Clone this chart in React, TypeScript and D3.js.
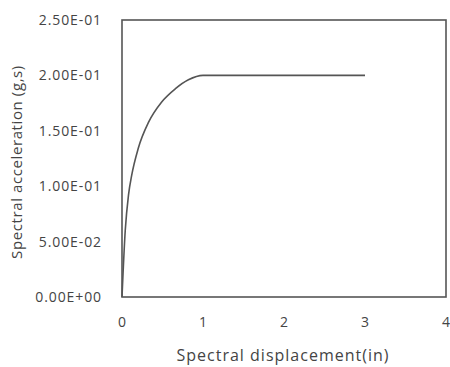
import { useEffect, useRef } from 'react';
import * as d3 from 'd3';

// pushover capacity curve (Sd in inches, Sa in g)
const displacement = [0, 0.04, 0.08, 0.12, 0.2, 0.33, 0.49, 0.66, 0.82, 1.0, 1.2, 3.0];
const acceleration = [0, 0.06, 0.092, 0.11, 0.134, 0.158, 0.176, 0.188, 0.196, 0.2, 0.2, 0.2];
const xTicks = [0, 1, 2, 3, 4];
const yTicks = [0, 0.05, 0.1, 0.15, 0.2, 0.25];

const width = 450;
const height = 367;

export default function App() {
  const ref = useRef<SVGSVGElement>(null);

  useEffect(() => {
    if (!ref.current) return;
    const svg = d3.select(ref.current);
    svg.selectAll('*').remove();

    const margin = { top: 20, right: 4, bottom: 70, left: 122 };
    const innerW = width - margin.left - margin.right;
    const innerH = height - margin.top - margin.bottom;
    const font = "'Open Sans', sans-serif";
    const ink = '#444';

    const g = svg
      .append('g')
      .attr('transform', `translate(${margin.left},${margin.top})`);

    const x = d3.scaleLinear().domain([0, 4]).range([0, innerW]);
    const y = d3.scaleLinear().domain([0, 0.25]).range([innerH, 0]);

    const pts = displacement.map((d, i) => [d, acceleration[i]] as [number, number]);
    const line = d3
      .line<[number, number]>()
      .x((d) => x(d[0]))
      .y((d) => y(d[1]))
      .curve(d3.curveMonotoneX);

    g.append('path')
      .datum(pts)
      .attr('fill', 'none')
      .attr('stroke', '#555')
      .attr('stroke-width', 1.6)
      .attr('d', line);

    // plot frame
    g.append('rect')
      .attr('x', 0)
      .attr('y', 0)
      .attr('width', innerW)
      .attr('height', innerH)
      .attr('fill', 'none')
      .attr('stroke', '#555')
      .attr('stroke-width', 1.6);

    g.selectAll('.ytick')
      .data(yTicks)
      .join('text')
      .attr('x', -20)
      .attr('y', (d) => y(d))
      .attr('dy', '0.35em')
      .attr('text-anchor', 'end')
      .attr('font-family', font)
      .attr('font-size', 14)
      .attr('letter-spacing', 0.9)
      .attr('fill', ink)
      .text((d) => d.toExponential(2).toUpperCase().replace(/E([+-])(\d)$/, 'E$10$2'));

    g.selectAll('.xtick')
      .data(xTicks)
      .join('text')
      .attr('x', (d) => x(d))
      .attr('y', innerH + 25)
      .attr('dy', '0.35em')
      .attr('text-anchor', 'middle')
      .attr('font-family', font)
      .attr('font-size', 14)
      .attr('fill', ink)
      .text((d) => d);

    svg
      .append('text')
      .attr('x', 283)
      .attr('y', 355)
      .attr('dy', '0.35em')
      .attr('text-anchor', 'middle')
      .attr('font-family', font)
      .attr('font-size', 16)
      .attr('letter-spacing', 1)
      .attr('fill', ink)
      .text('Spectral displacement(in)');

    svg
      .append('text')
      .attr('transform', 'translate(17,162) rotate(-90)')
      .attr('dy', '0.35em')
      .attr('text-anchor', 'middle')
      .attr('font-family', font)
      .attr('font-size', 15)
      .attr('letter-spacing', 0.6)
      .attr('fill', ink)
      .text('Spectral acceleration (g,s)');
  }, []);

  return (
    <svg
      ref={ref}
      width={width}
      height={height}
      style={{ position: 'absolute', left: 0, top: 0, background: '#fff' }}
    />
  );
}
